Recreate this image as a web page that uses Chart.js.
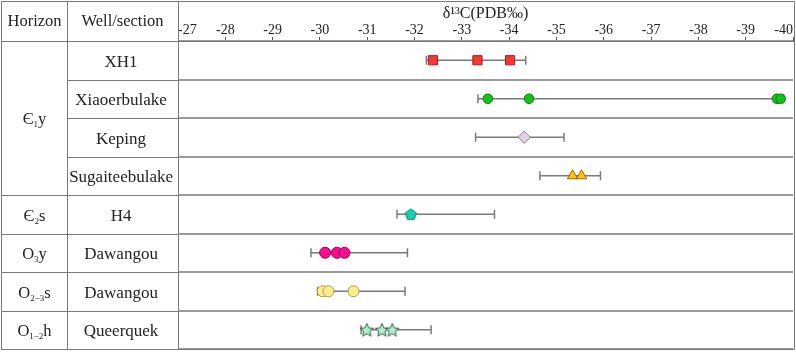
<!DOCTYPE html>
<html>
<head>
<meta charset="utf-8">
<script src="https://cdn.jsdelivr.net/npm/chart.js@4.4.1/dist/chart.umd.min.js"></script>
<style>
  html, body { margin: 0; padding: 0; background: #fff; }
  #wrap { width: 796px; height: 352px; }
</style>
</head>
<body>
<div id="wrap"><canvas id="myChart" width="796" height="352"></canvas></div>
<script>
// rows of the table (top to bottom)
const wells = ['XH1', 'Xiaoerbulake', 'Keping', 'Sugaiteebulake', 'H4', 'Dawangou', 'Dawangou', 'Queerquek'];
// horizon: [base, subscript, suffix, first row, last row]
const horizons = [
  ['Є', '1', 'y', 0, 3],
  ['Є', '2', 's', 4, 4],
  ['O', '3', 'y', 5, 5],
  ['O', '2−3', 's', 6, 6],
  ['O', '1−2', 'h', 7, 7]
];

// delta 13C ranges per row (whiskers)
const rangeMin = [-32.25, -33.34, -33.29, -34.65, -31.63, -29.81, -29.95, -30.87];
const rangeMax = [-34.35, -39.80, -35.16, -35.93, -33.69, -31.85, -31.80, -32.35];

// sample values per row
const xh1 = [-32.39, -33.33, -34.02];
const xiaoerbulake = [-33.55, -34.42, -39.66, -39.74];
const keping = [-34.32];
const sugaiteebulake = [-35.34, -35.53];
const h4 = [-31.92];
const dawangouO3y = [-30.11, -30.36, -30.52];
const dawangouO23s = [-30.06, -30.18, -30.71];
const queerquek = [-30.99, -31.31, -31.53];

const serif = "'Liberation Serif', 'DejaVu Serif', serif";

function shapeCanvas(kind, fill, stroke) {
  const c = document.createElement('canvas');
  c.width = 16; c.height = 16;
  const g = c.getContext('2d');
  const cx = 8, cy = 8;
  g.beginPath();
  if (kind == 'pentagon') {
    for (let i = 0; i < 5; i++) {
      const a = -Math.PI / 2 + i * 2 * Math.PI / 5;
      g.lineTo(cx + 5.8 * Math.cos(a), cy + 0.5 + 5.8 * Math.sin(a));
    }
  } else {
    for (let i = 0; i < 10; i++) {
      const a = -Math.PI / 2 + i * Math.PI / 5;
      const r = i % 2 ? 3.2 : 7;
      g.lineTo(cx + r * Math.cos(a), cy + 0.7 + r * Math.sin(a));
    }
  }
  g.closePath();
  g.fillStyle = fill;
  g.fill();
  g.lineWidth = 1;
  g.strokeStyle = stroke;
  g.stroke();
  return c;
}

// y is the row index on the category axis (parsing is off)
function pts(vals, row) {
  return vals.map(v => ({ x: v, y: row }));
}

const datasets = [];
for (let i = 0; i < wells.length; i++) {
  datasets.push({
    type: 'line',
    data: [{ x: rangeMin[i], y: i }, { x: rangeMax[i], y: i }],
    borderColor: '#7a7a7a',
    borderWidth: 1.5,
    pointStyle: 'line',
    rotation: 90,
    radius: 4.5,
    pointBorderColor: '#7a7a7a',
    pointBorderWidth: 1.5,
    order: 2
  });
}

function markers(vals, row, style, fill, stroke, r) {
  datasets.push({
    type: 'scatter',
    data: pts(vals, row),
    pointStyle: style,
    backgroundColor: fill,
    borderColor: stroke,
    borderWidth: 1,
    radius: r,
    order: 1
  });
}

markers(xh1, 0, 'rect', '#f23a36', '#b01818', 6.5);
markers(xiaoerbulake, 1, 'circle', '#12c21a', '#08800c', 4.8);
markers(keping, 2, 'rectRot', '#e4d0e2', '#8a7f8a', 6.2);
markers(sugaiteebulake, 3, 'triangle', '#ffc20a', '#9a6a00', 6);
markers(h4, 4, shapeCanvas('pentagon', '#12d2b6', '#0a7a6a'), '#12d2b6', '#0a7a6a', 5);
markers(dawangouO3y, 5, 'circle', '#f4108a', '#a0005a', 5.5);
markers(dawangouO23s, 6, 'circle', '#faf08a', '#a89a4a', 5.5);
markers(queerquek, 7, shapeCanvas('star', '#aef2cc', '#3a5a4a'), '#aef2cc', '#3a5a4a', 6);

const tablePlugin = {
  id: 'table',
  afterDraw(chart) {
    const ctx = chart.ctx;
    const y = chart.scales.y;
    const area = chart.chartArea;
    const rowH = (area.bottom - area.top) / wells.length;
    const c1 = 67, c2 = area.left;
    ctx.save();
    ctx.strokeStyle = '#7a7a7a';
    ctx.lineWidth = 1;
    ctx.beginPath();
    // outer frame
    ctx.rect(1.5, 1.5, 793, area.bottom - 1);
    // column lines
    ctx.moveTo(c1 + 0.5, 1); ctx.lineTo(c1 + 0.5, area.bottom);
    ctx.moveTo(c2 + 0.5, 1); ctx.lineTo(c2 + 0.5, area.bottom);
    // header line
    ctx.moveTo(1, area.top + 0.5); ctx.lineTo(c2, area.top + 0.5);
    // well column row lines
    for (let i = 1; i < wells.length; i++) {
      const yy = Math.round(area.top + i * rowH) + 0.5;
      ctx.moveTo(c1, yy); ctx.lineTo(c2, yy);
    }
    // horizon column row lines
    horizons.forEach(h => {
      const yy = Math.round(area.top + (h[4] + 1) * rowH) + 0.5;
      ctx.moveTo(1, yy); ctx.lineTo(c1, yy);
    });
    ctx.stroke();

    ctx.fillStyle = '#222';
    ctx.textBaseline = 'middle';
    ctx.textAlign = 'center';
    ctx.font = '16.5px ' + serif;
    ctx.fillText('Horizon', c1 / 2 + 1, 22);
    ctx.fillText('Well/section', (c1 + c2) / 2, 22);

    // horizon labels with subscripts
    ctx.textAlign = 'left';
    horizons.forEach(h => {
      const yc = (y.getPixelForValue(h[3]) + y.getPixelForValue(h[4])) / 2 + 2;
      ctx.font = '16.5px ' + serif;
      const w1 = ctx.measureText(h[0]).width;
      const w3 = ctx.measureText(h[2]).width;
      ctx.font = '9px ' + serif;
      const w2 = ctx.measureText(h[1]).width;
      let x = c1 / 2 + 1 - (w1 + w2 + w3) / 2;
      ctx.font = '16.5px ' + serif;
      ctx.fillText(h[0], x, yc);
      x += w1;
      ctx.font = '9px ' + serif;
      ctx.fillText(h[1], x, yc + 5);
      x += w2;
      ctx.font = '16.5px ' + serif;
      ctx.fillText(h[2], x, yc);
    });
    ctx.restore();
  }
};

new Chart('myChart', {
  data: { labels: wells, datasets: datasets },
  options: {
    responsive: false,
    animation: false,
    parsing: false,
    layout: { autoPadding: false, padding: { left: 67, top: 0, right: 3, bottom: 3 } },
    plugins: { legend: { display: false }, tooltip: { enabled: false } },
    scales: {
      x: {
        type: 'linear',
        position: 'top',
        min: -40,
        max: -27,
        reverse: true,
        afterFit: (s) => { s.height = 41; s.paddingLeft = 0; s.paddingRight = 0; },
        // keep -27 first so 'inner' aligns it to the left edge
        afterBuildTicks: (s) => { s.ticks.sort((a, b) => a.value - b.value); },
        ticks: {
          stepSize: 1,
          autoSkip: false,
          align: 'inner',
          padding: 0,
          maxRotation: 0,
          color: '#222',
          font: { family: serif, size: 14, lineHeight: 1 }
        },
        grid: { drawOnChartArea: false, drawTicks: true, tickLength: 4, color: '#555' },
        border: { display: true, color: '#7a7a7a', width: 1 },
        title: {
          display: true,
          text: 'δ¹³C(PDB‰)',
          color: '#222',
          font: { family: serif, size: 16 },
          padding: { top: 4, bottom: 0 }
        }
      },
      y: {
        type: 'category',
        offset: true,
        afterFit: (s) => { s.width = 111; s.paddingTop = 0; s.paddingBottom = 0; },
        ticks: {
          crossAlign: 'center',
          padding: 5,
          labelOffset: 2,
          color: '#222',
          font: { family: serif, size: 17 }
        },
        grid: { offset: true, drawTicks: false, color: '#9a9a9a', lineWidth: 2 },
        border: { display: true, color: '#7a7a7a', width: 1 }
      }
    }
  },
  plugins: [tablePlugin]
});
</script>
</body>
</html>
